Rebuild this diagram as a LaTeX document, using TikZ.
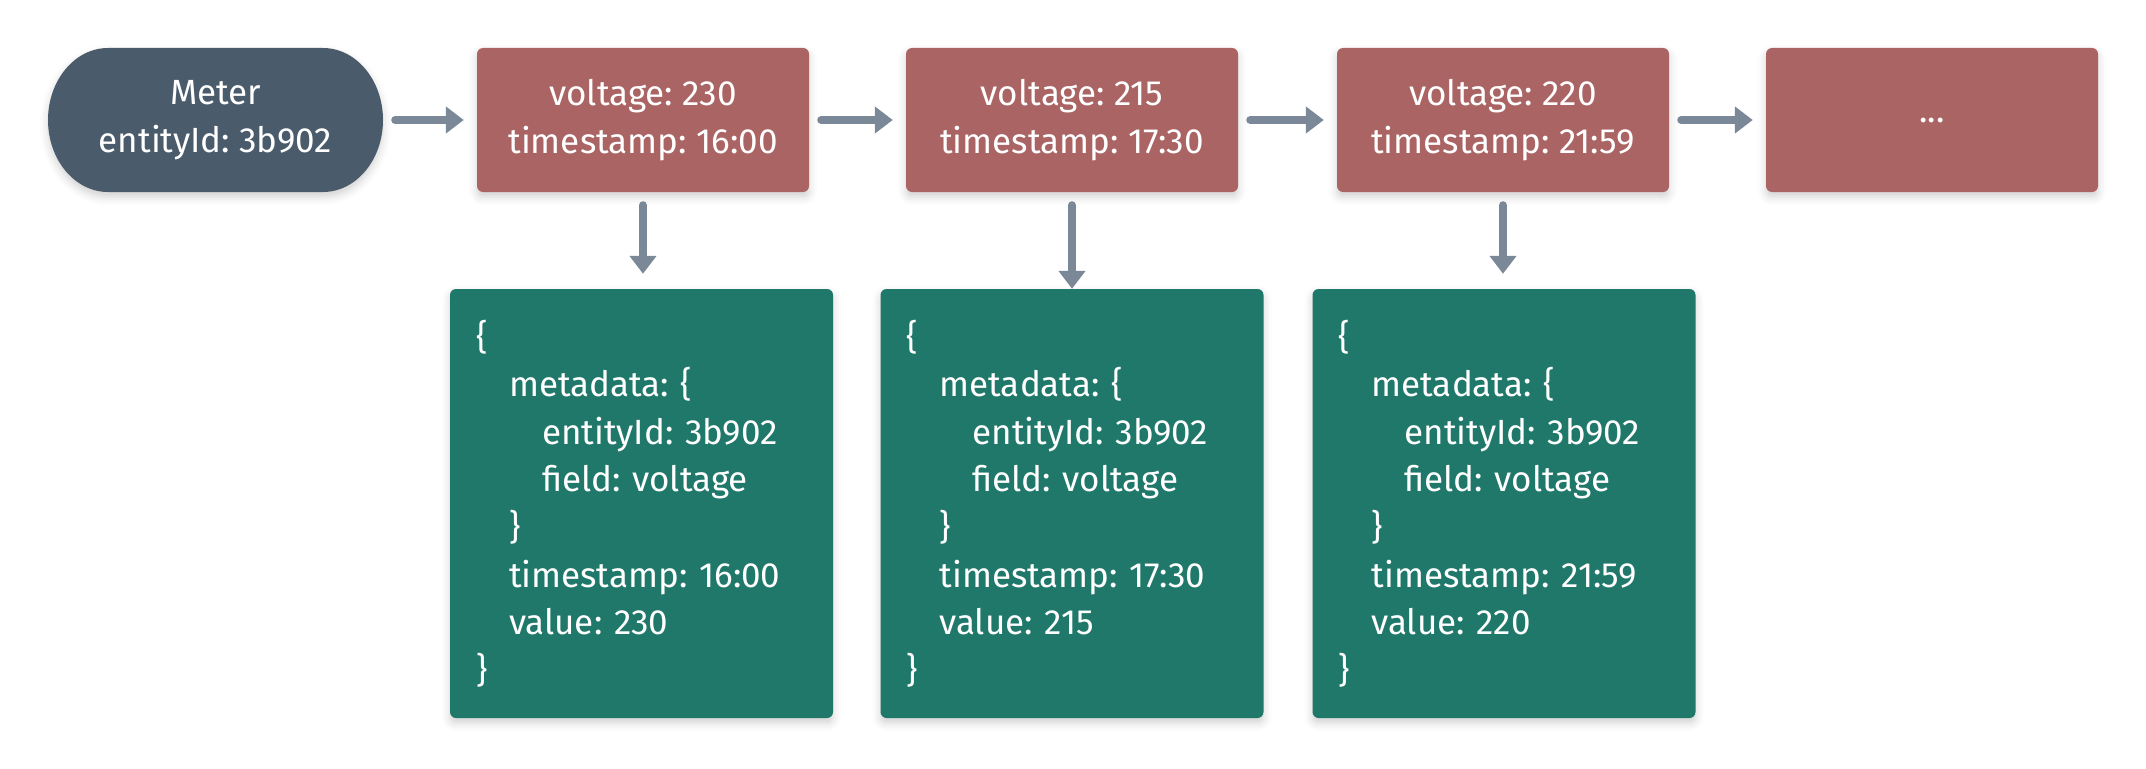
\documentclass[tikz,border=0pt]{standalone}
\usepackage{fontspec}
\setmainfont{Fira Sans}
\usetikzlibrary{arrows.meta,shadows.blur}
\definecolor{meterc}{HTML}{4A5B6B}
\definecolor{recc}{HTML}{AB6464}
\definecolor{docc}{HTML}{20786A}
\definecolor{arrc}{HTML}{7A8898}
\frenchspacing
\begin{document}
\begin{tikzpicture}[x=1pt,y=-1pt,
  softshadow/.style={blur shadow={shadow xshift=0pt,shadow yshift=-5pt,shadow blur radius=8pt,shadow opacity=18}},
  txt/.style={text=white,font=\frenchspacing\fontsize{35}{48}\selectfont},
  recbox/.style={txt,fill=recc,rounded corners=6pt,minimum width=332pt,minimum height=144pt,align=center,inner sep=0pt,softshadow},
  docbox/.style={txt,fill=docc,rounded corners=6pt,minimum height=429pt,text width=331pt,align=left,inner sep=26pt,font=\frenchspacing\fontsize{35}{47.6}\selectfont,softshadow},
  flow/.style={draw=arrc,line width=8pt,line cap=round,-{Triangle[length=18pt,width=26pt]},shorten <=12pt,shorten >=13pt}]
\useasboundingbox (0,0) rectangle (2146,768);
\fill[meterc,softshadow] (108,48) -- (323,48)
  arc[start angle=90,end angle=-90,x radius=60pt,y radius=72pt]
  -- (108,192)
  arc[start angle=270,end angle=90,x radius=60pt,y radius=72pt] -- cycle;
\node[txt,minimum width=335pt,minimum height=144pt,align=center,inner sep=0pt] (meter) at (215.5,120) {Meter\\entityId: 3b902};
\node[recbox] (r1) at (643,120) {voltage: 230\\timestamp: 16:00};
\node[recbox] (r2) at (1072,120) {voltage: 215\\timestamp: 17:30};
\node[recbox] (r3) at (1503,120) {voltage: 220\\timestamp: 21:59};
\node[recbox] (r4) at (1932,120) {...};
\newcommand{\ind}{\hspace*{33pt}}
\node[docbox] (d1) at (641.5,503.5) {\{\\\ind metadata: \{\\\ind\ind entityId: 3b902\\\ind\ind field: voltage\\\ind\}\\\ind timestamp: 16:00\\\ind value: 230\\\}};
\node[docbox] (d2) at (1072,503.5) {\{\\\ind metadata: \{\\\ind\ind entityId: 3b902\\\ind\ind field: voltage\\\ind\}\\\ind timestamp: 17:30\\\ind value: 215\\\}};
\node[docbox] (d3) at (1504,503.5) {\{\\\ind metadata: \{\\\ind\ind entityId: 3b902\\\ind\ind field: voltage\\\ind\}\\\ind timestamp: 21:59\\\ind value: 220\\\}};
\draw[flow] (meter) -- (r1);
\draw[flow] (r1) -- (r2);
\draw[flow] (r2) -- (r3);
\draw[flow] (r3) -- (r4);
\draw[flow,shorten <=13pt,shorten >=15pt] (r1.south) -- (r1.south |- d1.north);
\draw[flow,shorten <=13pt,shorten >=0pt] (r2.south) -- (r2.south |- d2.north);
\draw[flow,shorten <=13pt,shorten >=15pt] (r3.south) -- (r3.south |- d3.north);
\end{tikzpicture}
\end{document}
